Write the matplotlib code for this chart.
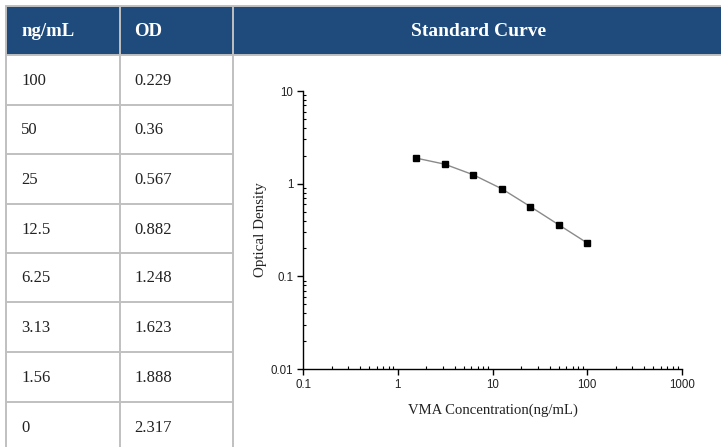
import matplotlib.pyplot as plt
from matplotlib.patches import Rectangle

# table values
conc_labels = ['100', '50', '25', '12.5', '6.25', '3.13', '1.56', '0']
od_labels = ['0.229', '0.36', '0.567', '0.882', '1.248', '1.623', '1.888', '2.317']
headers = ['ng/mL', 'OD', 'Standard Curve']

# plotted standard points (0 ng/mL left out on log axis)
conc = [1.56, 3.13, 6.25, 12.5, 25, 50, 100]
od = [1.888, 1.623, 1.248, 0.882, 0.567, 0.36, 0.229]

W, H = 721, 447
fig = plt.figure(figsize=(W / 100, H / 100), dpi=100)

# background axes in pixel units for the table
bg = fig.add_axes([0, 0, 1, 1])
bg.set_xlim(0, W)
bg.set_ylim(H, 0)
bg.axis('off')

blue = '#1f4a7c'
grid = '#c0c0c0'
lw = 1.4
cols = [6, 120, 233]
rows = [55, 105, 154, 204, 253, 302, 352, 402, 460]

bg.add_patch(Rectangle((6, 6), 716, 49, facecolor=blue, edgecolor='none'))
for x in cols:
    bg.plot([x, x], [6, H + 5], color=grid, lw=lw, solid_capstyle='butt')
bg.plot([6, 722], [6, 6], color=grid, lw=lw)
for y in rows:
    bg.plot([6, 233], [y, y], color=grid, lw=lw)
bg.plot([233, 722], [55, 55], color=grid, lw=lw)

tfont = dict(family='Liberation Serif')
bg.text(21, 32, headers[0], color='white', fontsize=13.5, fontweight='bold',
        va='center', ha='left', **tfont)
bg.text(134, 32, headers[1], color='white', fontsize=13.5, fontweight='bold',
        va='center', ha='left', **tfont)
bg.text(479, 32, headers[2], color='white', fontsize=14, fontweight='bold',
        va='center', ha='center', **tfont)

for i, (c, o) in enumerate(zip(conc_labels, od_labels)):
    yc = (rows[i] + rows[i + 1]) / 2 + 1
    if i == len(conc_labels) - 1:
        yc = 428
    bg.text(21, yc, c, fontsize=12, va='center', ha='left', color='#222222', **tfont)
    bg.text(134, yc, o, fontsize=12, va='center', ha='left', color='#222222', **tfont)

# standard curve
ax = fig.add_axes([303 / W, (H - 369) / H, 379 / W, 278 / H])
ax.plot(conc, od, color='#8a8a8a', lw=1, zorder=2)
ax.plot(conc, od, 's', color='black', ms=5, zorder=3)
ax.set_xscale('log')
ax.set_yscale('log')
ax.set_xlim(0.1, 1000)
ax.set_ylim(0.01, 10)
ax.set_xticks([0.1, 1, 10, 100, 1000])
ax.set_xticklabels(['0.1', '1', '10', '100', '1000'])
ax.set_yticks([0.01, 0.1, 1, 10])
ax.set_yticklabels(['0.01', '0.1', '1', '10'])
for s in ['top', 'right']:
    ax.spines[s].set_visible(False)
for s in ['left', 'bottom']:
    ax.spines[s].set_linewidth(1)
ax.tick_params(which='major', direction='out', length=4, width=1, labelsize=8.3,
               pad=3, labelcolor='#222222')
ax.tick_params(which='minor', direction='in', length=2.5, width=0.8)
for lab in ax.get_xticklabels() + ax.get_yticklabels():
    lab.set_family('Liberation Sans')
ax.set_xlabel('VMA Concentration(ng/mL)', fontsize=10.6, family='Liberation Serif',
              labelpad=9, color='#222222')
ax.set_ylabel('Optical Density', fontsize=10.8, family='Liberation Serif',
              labelpad=3, color='#222222')
ax.patch.set_alpha(0)

plt.savefig('out.png', dpi=100)
